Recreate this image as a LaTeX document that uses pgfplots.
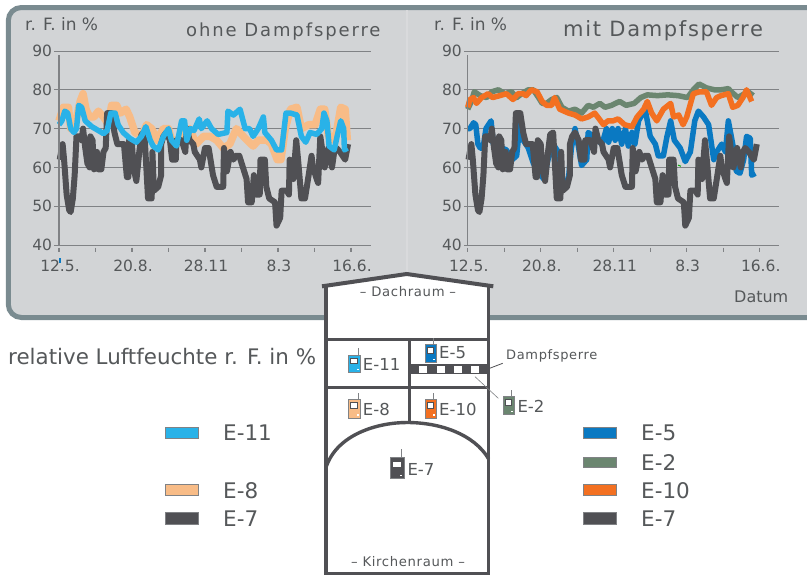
\documentclass[border=0pt]{standalone}
\usepackage{pgfplots}
\pgfplotsset{compat=1.18}
\usepackage{pgfplotstable}
\usepackage{fontspec}
\setmainfont{DejaVu Sans}
\newfontfamily\spacedA[LetterSpace=10.5]{DejaVu Sans}
\newfontfamily\spacedB[LetterSpace=8]{DejaVu Sans}
\newfontfamily\spacedC[LetterSpace=5]{DejaVu Sans}
\definecolor{panel}{HTML}{D2D4D6}
\definecolor{border}{HTML}{7A8B90}
\definecolor{txt}{HTML}{55585A}
\definecolor{gridc}{HTML}{808285}
\definecolor{eEleven}{HTML}{29B2E8}
\definecolor{eEight}{HTML}{F8BC87}
\definecolor{eSeven}{HTML}{505054}
\definecolor{eFive}{HTML}{0A79C2}
\definecolor{eTwo}{HTML}{6B8670}
\definecolor{eTen}{HTML}{F37021}
\pgfplotstableread{
d v
1 62
5 66
7 62
10.5 53
14 49
16 48.5
19 52
21.5 58
24 68
28 68
31 67
33 70
36 65
39 61
42 60
43 68
46 67
48 59.5
52 64
54 59.5
58 59.5
61 64
64 65
66 74
72 74
76 69
80 66
84 66
89 66
93 57.5
95 57.5
96 67
100 66
102 60
106 56.5
110 64
113 68.5
117 69
122 52
127 52
128 64
130 54
136 55
140 58
140 66
143 68
147 69
152 67
155 62
160 62
161 67
168 67
173 64
175 70
179 67
184 66
186 64
193 62
195 60
200 65
205 65
211 58
216 55
225 55
226 65
230 59
235 64
239 62
242 63
247 63
252 60
257 57
259 51
264 51
267 58
270 53
275 53
276 62
282 62
284 55
288 52
296 51
298 45
303 47
305 54
312 54
315 53
316 62
321 57
325 67
328 61
332 52
337 52
342 58
346 63
348 60
353 57
355 56
358 68
364 60
369 65
374 60
377 64
380 65
385 64
392 62
396 66
}\eSevenData
\pgfplotstableread{
d v
0 71
4 72
8 74.5
12 74
16 70
20.5 69
24 70
27 76
31 75.5
36 72
45 70.5
54 69.5
61 68.7
66 69.5
71 74
77 74
81 71
88 69
97 67.5
106 66.5
113 68
119 70.5
125 67
129 65.5
136 64.5
143 68
150 70
154 67
161 65.5
168 72
172 72
175 67
180 70
185 69.5
192 72.5
195 70
203 72
209 70
218 68.5
230 69
231.5 74.5
239 73.5
248 75
255 70
261 70
266 68
273 70
280 73
282 69
291 67
298 64.5
305 64.5
311 74
317 74
326 73.5
332 68
338 66.5
344 69
353 68.5
360 70
363 74
367 72
370 65.5
377 64.5
381 68
386 72
390 70
391 64.5
395 65
}\eElevenData
\pgfplotstableread{
d v
0 72
6 75.5
13 75.5
16 70
23 72
29 77
33 79
37 75
42 73
48 73
54 74.5
61 73
68 71
72 76
79 76
84 74
92 75
97 73
104 69
113 68
120 71
127 70
134 67
143 70
150 70
154 67
161 67
168 68
179 70
188 66
198 68
207 68
216 67
225 65
234 66
243 70
255 67.5
266 65.5
273 67
285 67
291 66
299 62
304 62
310 70
317 75
326 75.5
332 70
342 71
351 71
358 75
364 75
369 68
376 67
380 69
386 75.5
392 75
395 67
}\eEightData
\pgfplotstableread{
d v
0 70
3 70
8 71.5
11 71
14 66
17 65
21 65
25 70
32 72
35 66
47 65
53 64.5
61 62
67 63
72 72
76 67
83 65
90 61
97 59
104 57
110 62
117 66
124 64
129 58
133 55
138 57
142 65
147 70
152 65
156 60.5
163 62
165 69
172 68
184 66
190 70
193 66.5
198 70
202 67
206 70
211 66
216 70
220 65.5
225 69
229 66
234 72
243 75
250 68
257 66
261 63
268 63
273 68
278 72
283 67
291 65
298 61.5
305 64
311 72
316 74.5
323 73
330 71
337 62
341 64
348 66
353 64
357 72
364 65
368 59
373 58.5
378 62
382 68
387 67.5
389 58
394 58.5
}\eFiveData
\pgfplotstableread{
d v
0 75
5 77
9 79.5
17 78.5
26 78
33 79.5
42 80
51 79
60 79.5
67 78
74 79
83 80
90 80
97 78
102 76.5
108 76.5
115 77.5
122 78
129 75.5
138 74.5
147 75
156 74
165 76
172 75.5
181 76.5
188 75.5
197 76
208 77
217 76
228 76.5
237 78
246 78.7
260 78.5
274 78.7
288 78.5
301 78
309 80
317 81.5
327 80.5
338 80
347 80
357 80.3
361 79.5
370 78
384 79.5
391 78.5
}\eTwoData
\pgfplotstableread{
d v
0 75.5
3 77.5
8 78
12 76.5
19 78
28 79
34 78
44 78.5
53 79
62 77.5
69 79
76 79
80 78.5
87 80
95 79.5
102 77
108 76
115 76
119 78
126 75
138 74
147 73.5
156 72.5
165 73
174 74
186 71
192 72
199 72
206 72.5
215 71
225 70.5
232 73
241 75
246 77
252 74
259 72
268 75
278 76.5
282 73
289 73.5
295 71
300 73
309 79
318 79.5
327 79.5
334 76
341 78
347 78.5
357 79
363 75.5
370 76
377 78
382 80
389 77
}\eTenData
\pgfplotstableread{
d v
0 38.8
50 38.8
100 38.8
150 38.8
200 38.8
250 38.8
300 38.8
350 38.8
400 38.8
}\tickData
\pgfplotsset{
  chart/.style={
    scale only axis, width=#1, height=194pt,
    anchor=south west,
    ymin=40, ymax=90, ytick={40,50,60,70,80,90},
    xtick={0,100,200,300,400},
    xticklabels={12.5.,20.8.,28.11,8.3,16.6.},
    /pgf/number format/assume math mode=true,
    axis line style={draw=none},
    major tick length=0pt,
    ymajorgrids, grid style={gridc,line width=1pt},
    clip=false,
    every tick label/.append style={font=\fontsize{15.5}{15.5}\selectfont,text=txt,inner sep=0pt},
    xticklabel style={yshift=-21pt,xshift=1pt,anchor=center},
    yticklabel style={xshift=-2pt,anchor=east},
  },
  ser/.style 2 args={no marks,line width=#2,color=#1,line join=round},
}
\newcommand{\logger}[7]{% x y w h col antenna-x antenna-top
  \fill[#5,draw=gridc,line width=.4pt] (#1,#2) rectangle ++(#3,#4);
  \fill[white,draw=eSeven,line width=.3pt] ({#1+0.15*#3},{#2+0.17*#4}) rectangle ++({0.62*#3},{0.32*#4});
  \fill[white] ({#1+0.72*#3},{#2+0.82*#4}) rectangle ++(2,1.3);
  \draw[gridc,line width=.7pt] (#6,#2) -- (#6,#7);
}
\begin{document}
\begin{tikzpicture}[x=1pt,y=-1pt]
\fill[white] (0,0) rectangle (807,574);
% panel
\draw[border,fill=panel,line width=5pt,rounded corners=13pt] (8.3,7.5) -- (830,7.5) -- (830,317.5) -- (8.3,317.5) -- cycle;
\draw[color=panel!85!white,line width=1.5pt] (407,10) -- (407,315);
% left chart
\begin{axis}[chart=316.4pt, at={(54.3pt,-245pt)}, xmin=-6.4, xmax=427]
\addplot[ser={eEight}{7.5pt}] table[x=d,y=v] {\eEightData};
\addplot[ser={eSeven}{6pt}] table[x=d,y=v] {\eSevenData};
\addplot[ser={eEleven}{5.5pt}] table[x=d,y=v] {\eElevenData};
\addplot[gridc,line width=1.5pt,no marks] coordinates {(0,40) (0,89)};
\addplot[only marks,mark=|,mark size=2pt,mark options={gridc,line width=1.3pt}] table[x=d,y=v] {\tickData};
\end{axis}
% right chart
\begin{axis}[chart=315pt, at={(464pt,-245pt)}, xmin=-5.1, xmax=426.4]
\addplot[ser={eFive}{5.5pt}] table[x=d,y=v] {\eFiveData};
\addplot[ser={eTwo}{5.5pt}] table[x=d,y=v] {\eTwoData};
\addplot[ser={eTen}{5.5pt}] table[x=d,y=v] {\eTenData};
\addplot[ser={eSeven}{6pt}] table[x=d,y=v] {\eSevenData};
\addplot[color=green!65!black,line width=1pt,no marks] coordinates {(288,60.6) (292,60.3)};
\addplot[gridc,line width=1.5pt,no marks] coordinates {(0,40) (0,89)};
\addplot[only marks,mark=|,mark size=2pt,mark options={gridc,line width=1.3pt}] table[x=d,y=v] {\tickData};
\end{axis}
\fill[eFive] (59.3,258) rectangle (60.8,263);
% panel texts
\node[anchor=west,text=txt,inner sep=0,font=\fontsize{17}{17}\selectfont] at (25,24) {r. F. in \%};
\node[anchor=west,text=txt,inner sep=0,font=\fontsize{17}{17}\selectfont] at (434,24) {r. F. in \%};
\node[anchor=west,text=txt,inner sep=0,font=\fontsize{18}{18}\selectfont\spacedA] at (186,32) {ohne Dampfsperre};
\node[anchor=west,text=txt,inner sep=0,font=\fontsize{21}{21}\selectfont\spacedB] at (563,31) {mit Dampfsperre};
\node[anchor=west,text=txt,inner sep=0,font=\fontsize{16}{16}\selectfont] at (734,297) {Datum};
% house
\fill[white] (326,286) -- (406.7,274) -- (489,286) -- (489,580) -- (326,580) -- cycle;
\draw[eSeven,line width=3.4pt] (326,286) -- (326,580);
\draw[eSeven,line width=3.4pt] (488.7,286) -- (488.7,580);
\draw[eSeven,line width=3pt] (326,573) -- (488.7,573);
\draw[eSeven,line width=4pt] (322,286.3) -- (406.7,274) -- (493.3,286.3);
\draw[eSeven,line width=3pt] (326,339) -- (488.7,339);
\draw[eSeven,line width=3pt] (326,387.3) -- (488.7,387.3);
\draw[eSeven,line width=3pt] (409,339) -- (409,422.5);
\fill[eSeven] (409,364.3) rectangle (488.7,374);
\foreach \q in {419.3,436.7,454,471.3} \fill[white] (\q,365.7) rectangle ++(8,7);
\draw[eSeven,line width=3.4pt] (326.5,466) .. controls (338,434) and (378,422.5) .. (407,422.5) .. controls (440,422.5) and (474,434) .. (488.7,459);
\draw[eSeven,line width=.8pt] (480.7,371.7) -- (502.7,363.3);
\draw[gridc,line width=.6pt] (475,376.7) -- (498.3,398.3);
% house labels
\node[text=txt,inner sep=0,font=\fontsize{13.2}{13.2}\selectfont\spacedC] at (408,292) {– Dachraum –};
\node[text=txt,inner sep=0,font=\fontsize{13.2}{13.2}\selectfont\spacedC] at (408,562) {– Kirchenraum –};
\node[anchor=west,text=txt,inner sep=0,font=\fontsize{13}{13}\selectfont\spacedC] at (506,355.7) {Dampfsperre};
\logger{348.3}{355}{11.7}{17.3}{eEleven}{358}{348}
\logger{425.3}{344}{10.7}{18.3}{eFive}{433}{338}
\logger{348.3}{399.3}{11.7}{18.4}{eEight}{358}{393}
\logger{425.3}{399.3}{10.7}{18.4}{eTen}{433}{393}
\logger{503.3}{395.7}{10.7}{18.6}{eTwo}{511.5}{390}
\logger{390}{457.3}{14}{21}{eSeven}{401.3}{449}
\foreach \px/\py/\lab in {362.7/364.3/E-11,439/353/E-5,362.7/409/E-8,439/409/E-10,517.3/406.3/E-2,407.3/469/E-7}
  \node[anchor=west,text=txt,inner sep=0,font=\fontsize{16.5}{16.5}\selectfont] at (\px,\py) {\lab};
% caption and legends
\node[anchor=west,text=txt,inner sep=0,font=\fontsize{21.4}{21.4}\selectfont] at (8,357) {relative Luftfeuchte r. F. in \%};
\foreach \py/\h/\col/\lab in {427/11.5/eEleven/E-11,484.5/11/eEight/E-8,512.5/11.5/eSeven/E-7}{
  \fill[\col,draw=gridc,line width=.5pt] (165,\py) rectangle ++(33,\h);
  \node[anchor=west,text=txt,inner sep=0,font=\fontsize{21.5}{21.5}\selectfont] at (223,\py+6) {\lab};
}
\foreach \py/\h/\col/\lab in {427/11.5/eFive/E-5,457/10.5/eTwo/E-2,484.5/11/eTen/E-10,512.5/11.5/eSeven/E-7}{
  \fill[\col,draw=gridc,line width=.5pt] (583,\py) rectangle ++(33,\h);
  \node[anchor=west,text=txt,inner sep=0,font=\fontsize{21.5}{21.5}\selectfont] at (641,\py+6) {\lab};
}
\pgfresetboundingbox
\path[use as bounding box] (0,0) rectangle (807,574);
\end{tikzpicture}
\end{document}
